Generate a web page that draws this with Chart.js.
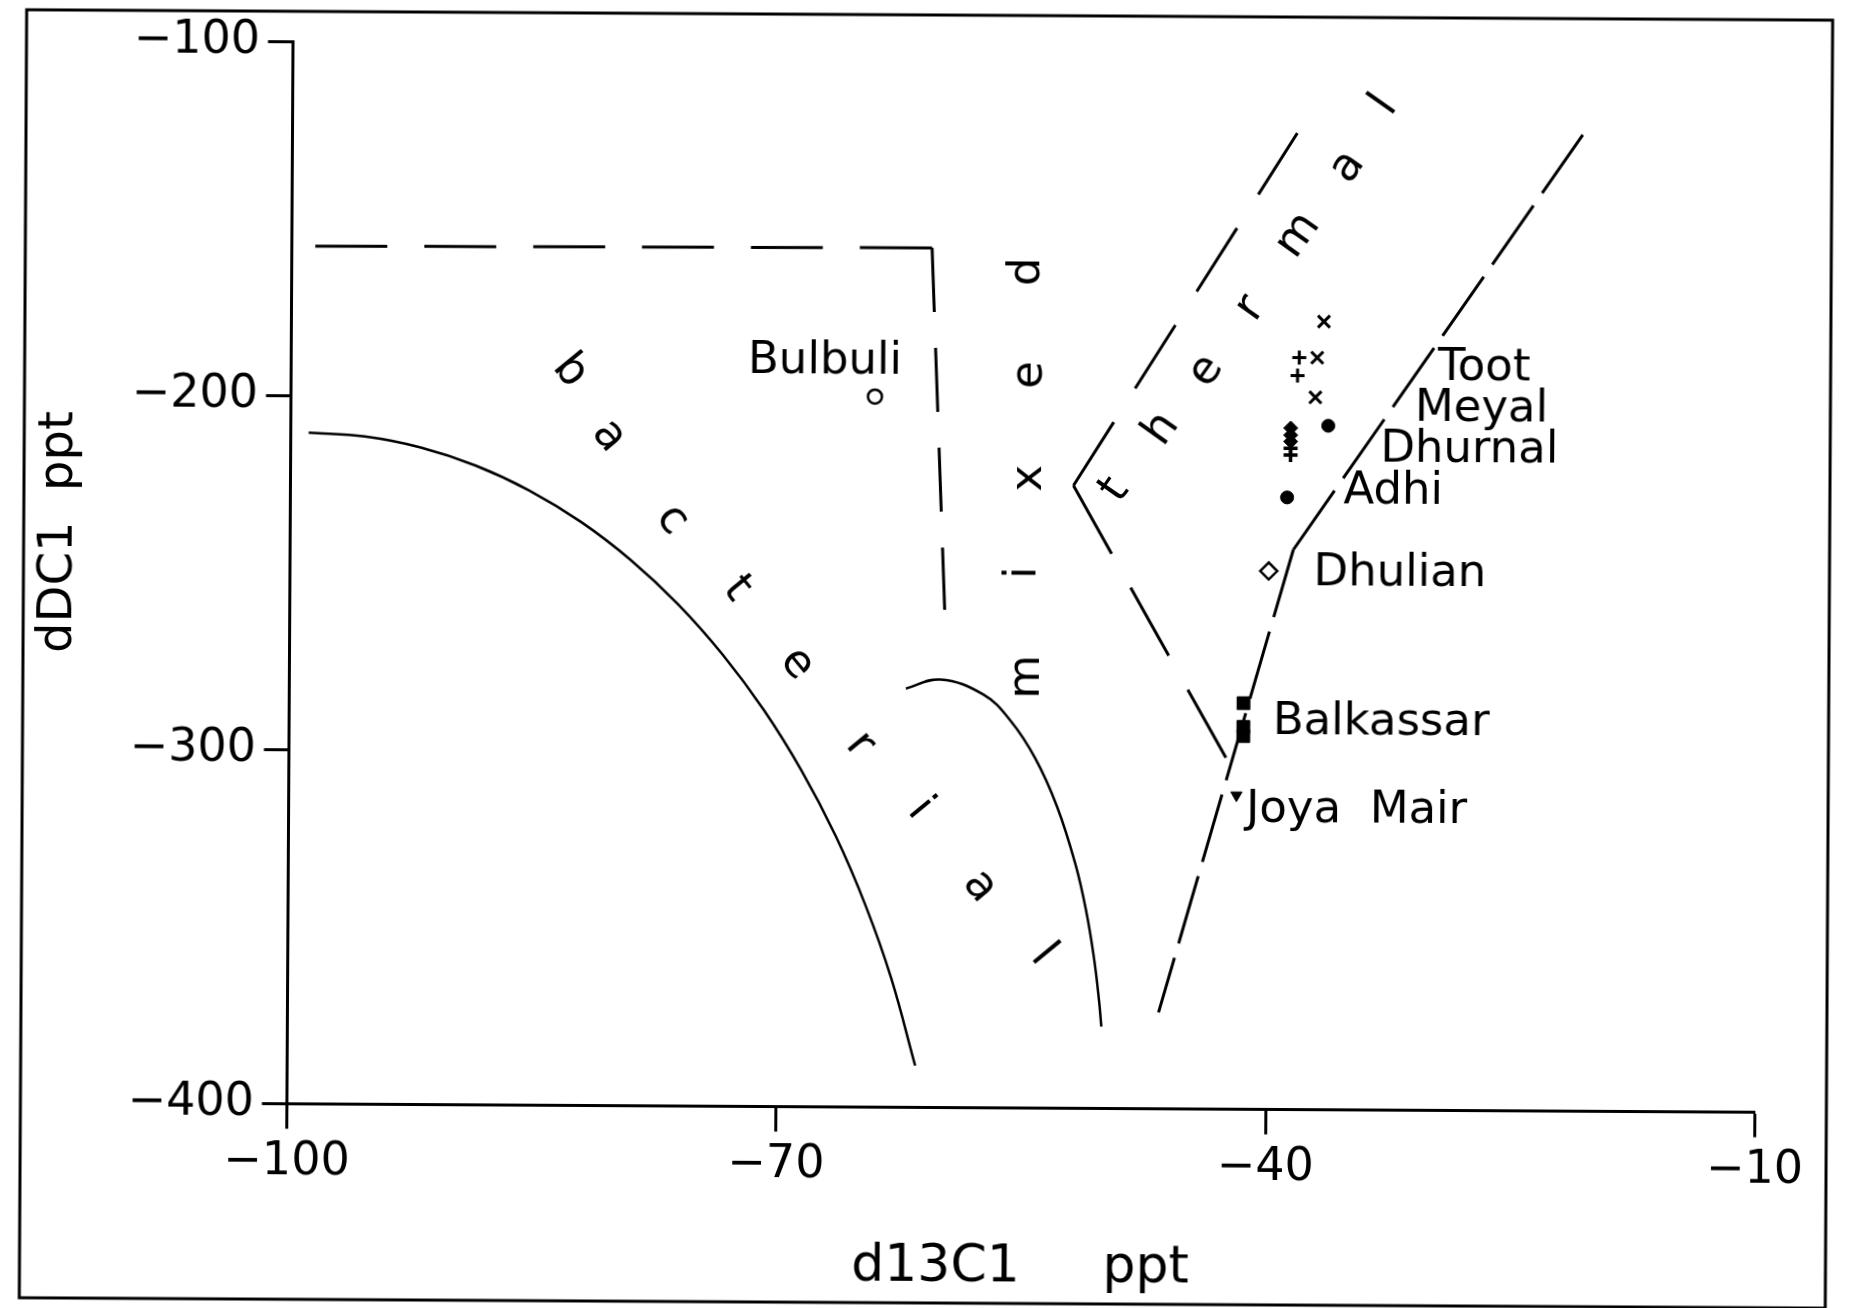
<!DOCTYPE html>
<html>
<head>
<meta charset="utf-8">
<title>dDC1 versus d13C1</title>
<script src="https://cdn.jsdelivr.net/npm/chart.js@4.4.1/dist/chart.umd.min.js"></script>
<style>
  html, body { margin: 0; padding: 0; background: #fff; overflow: hidden; }
  #plot { display: block; transform: rotate(0.33deg); }
</style>
</head>
<body>
<canvas id="plot" width="1868" height="1308"></canvas>
<script>
// Axis ticks
const xTicks = [-100, -70, -40, -10];
const yTicks = [-100, -200, -300, -400];

// Field boundaries (d13C1, dDC1)
const outerCurveX = [-98.9, -95.45, -92.02, -88.65, -85.36, -82.16, -79.10, -76.19, -73.45, -70.9, -68.57, -66.46, -64.61, -63.01, -61.5];
const outerCurveY = [-210.4, -211.41, -214.43, -219.44, -226.38, -235.23, -245.91, -258.31, -272.41, -288.02, -305.06, -323.39, -342.9, -363.4, -388.2];
const innerCurveX = [-62.2, -60.1, -57.46, -55.79, -54.25, -52.89, -51.74, -51.09, -50.58, -50.25, -50.1];
const innerCurveY = [-281.7, -279.1, -283.26, -290.53, -301.16, -314.83, -331.12, -343.82, -357.38, -369.53, -376.9];
const bacterialTopX = [-60.75, -98.95];
const bacterialTopY = [-157.2, -157.7];
const bacterialSideX = [-60.75, -59.85];
const bacterialSideY = [-157.2, -259.4];
const thermalLeftUpX = [-52.0, -38.4];
const thermalLeftUpY = [-224.1, -124.2];
const thermalLeftLowX = [-52.0, -42.5];
const thermalLeftLowY = [-224.1, -301.2];
const thermalRightUpX = [-38.5, -20.9];
const thermalRightUpY = [-241.9, -124.2];
const thermalRightLowX = [-38.5, -46.6];
const thermalRightLowY = [-241.9, -372.8];

// Gas samples
const bulbuliX = [-64.2];
const bulbuliY = [-199.3];
const tootPlusX = [-38.2, -38.3];
const tootPlusY = [-187.6, -192.7];
const tootCrossX = [-36.7, -37.1, -37.2];
const tootCrossY = [-177.4, -187.6, -198.8];
const meyalX = [-36.4];
const meyalY = [-206.8];
const dhurnalX = [-38.7, -38.7, -38.7];
const dhurnalY = [-207.5, -209.5, -211.3];
const dhurnalPlusX = [-38.7, -38.7];
const dhurnalPlusY = [-213.2, -215.1];
const adhiX = [-38.9];
const adhiY = [-227.1];
const dhulianX = [-40.0];
const dhulianY = [-247.9];
const balkassarX = [-41.5, -41.5, -41.5];
const balkassarY = [-285.3, -292.0, -294.6];
const joyaMairX = [-41.9];
const joyaMairY = [-311.3];

// Site names and where their text sits
const siteNames = ['Bulbuli', 'Toot', 'Meyal', 'Dhurnal', 'Adhi', 'Dhulian', 'Balkassar', 'Joya  Mair'];
const siteLabelX = [-72.0, -29.7, -31.1, -33.2, -35.45, -37.25, -39.7, -41.3];
const siteLabelY = [-192.8, -193.7, -205.3, -216.9, -228.7, -251.8, -293.8, -318.8];

// Field names, spelled letter by letter along each field
const bacterialWord = 'bacterial';
const bacterialLetterX = [-82.9, -80.5, -76.6, -72.6, -68.9, -65.0, -61.3, -57.6, -53.7];
const bacterialLetterY = [-192.6, -210.9, -234.5, -253.8, -275.0, -297.8, -315.7, -337.5, -356.7];
const mixedWord = 'mixed';
const mixedLetterX = [-54.8, -55.0, -54.7, -54.7, -54.9];
const mixedLetterY = [-278.2, -248.8, -222.1, -192.9, -163.8];
const thermalWord = 'thermal';
const thermalLetterX = [-49.45, -46.6, -43.9, -41.2, -38.3, -35.3, -33.05];
const thermalLetterY = [-225.3, -208.0, -191.6, -173.8, -153.1, -133.7, -116.2];

const xTitle = 'd13C1     ppt';
const yTitle = 'dDC1  ppt';

const FONT = '"DejaVu Sans", sans-serif';
const INK = '#000';

const pts = (xs, ys) => xs.map((x, i) => ({ x, y: ys[i] }));
const fmt = v => (v < 0 ? '\u2212' : '') + Math.abs(v);

function boundary(xs, ys, dash, width) {
  return {
    data: pts(xs, ys), showLine: true, fill: false,
    borderColor: INK, borderWidth: width, borderDash: dash, borderCapStyle: 'butt',
    tension: 0.4,
    pointRadius: 0, pointHoverRadius: 0
  };
}
function samples(xs, ys, style, radius, filled, lineWidth, rotation) {
  return {
    data: pts(xs, ys), showLine: false,
    pointStyle: style, pointRadius: radius, pointHoverRadius: radius,
    pointBorderColor: INK, pointBackgroundColor: filled ? INK : '#fff',
    pointBorderWidth: lineWidth, pointRotation: rotation || 0
  };
}

// Page frame, axis titles, site names and field names
const textLayer = {
  id: 'textLayer',
  beforeDraw(chart) {
    const ctx = chart.ctx;
    ctx.save();
    ctx.fillStyle = '#fff';
    ctx.fillRect(0, 0, chart.width, chart.height);
    ctx.strokeStyle = INK;
    ctx.lineWidth = 3;
    ctx.strokeRect(23, 15, 1806, 1288);
    ctx.restore();
  },
  afterDraw(chart) {
    const { ctx, chartArea, scales: { x, y } } = chart;
    ctx.save();
    ctx.fillStyle = INK;

    // axis titles
    ctx.textAlign = 'center';
    ctx.textBaseline = 'alphabetic';
    ctx.font = '52px ' + FONT;
    ctx.fillText(xTitle, (chartArea.left + chartArea.right) / 2, 1281);
    ctx.font = '48px ' + FONT;
    ctx.save();
    ctx.translate(71, 537);
    ctx.rotate(-Math.PI / 2);
    ctx.fillText(yTitle, 0, 0);
    ctx.restore();

    // site names
    ctx.font = '45px ' + FONT;
    ctx.textAlign = 'left';
    siteNames.forEach((name, i) => {
      ctx.fillText(name, x.getPixelForValue(siteLabelX[i]), y.getPixelForValue(siteLabelY[i]));
    });

    // field names, one letter at a time
    ctx.textAlign = 'center';
    ctx.textBaseline = 'middle';
    const spell = (word, xs, ys, deg) => {
      word.split('').forEach((ch, i) => {
        ctx.save();
        ctx.translate(x.getPixelForValue(xs[i]), y.getPixelForValue(ys[i]));
        ctx.rotate(deg * Math.PI / 180);
        ctx.fillText(ch, 0, 0);
        ctx.restore();
      });
    };
    spell(bacterialWord, bacterialLetterX, bacterialLetterY, 50);
    spell(mixedWord, mixedLetterX, mixedLetterY, -90);
    spell(thermalWord, thermalLetterX, thermalLetterY, -55);
    ctx.restore();
  }
};

const axisGrid = { display: true, drawOnChartArea: false, drawTicks: true, tickLength: 25, tickWidth: 3, tickColor: INK };
const axisBorder = { display: true, color: INK, width: 3 };
const tickFont = { family: FONT, size: 46 };

new Chart(document.getElementById('plot'), {
  type: 'scatter',
  data: {
    datasets: [
      boundary(outerCurveX, outerCurveY, [], 2.5),
      boundary(innerCurveX, innerCurveY, [], 2.5),
      boundary(bacterialTopX, bacterialTopY, [72, 37], 3),
      boundary(bacterialSideX, bacterialSideY, [64, 36], 3),
      boundary(thermalLeftUpX, thermalLeftUpY, [75, 40], 3),
      boundary(thermalLeftLowX, thermalLeftLowY, [78, 39], 3),
      boundary(thermalRightUpX, thermalRightUpY, [72, 15], 3),
      boundary(thermalRightLowX, thermalRightLowY, [70, 15], 3),
      samples(bulbuliX, bulbuliY, 'circle', 7, false, 2.5),
      samples(tootPlusX, tootPlusY, 'cross', 7, false, 3),
      samples(tootCrossX, tootCrossY, 'crossRot', 8.5, false, 3),
      samples(meyalX, meyalY, 'circle', 6.5, true, 1),
      samples(dhurnalX, dhurnalY, 'rectRot', 7, true, 1),
      samples(dhurnalPlusX, dhurnalPlusY, 'cross', 7, true, 3.5),
      samples(adhiX, adhiY, 'circle', 6.5, true, 1),
      samples(dhulianX, dhulianY, 'rectRot', 8.5, false, 2.5),
      samples(balkassarX, balkassarY, 'rect', 9, true, 1),
      samples(joyaMairX, joyaMairY, 'triangle', 6.5, true, 1, 180)
    ]
  },
  options: {
    responsive: false,
    animation: false,
    events: [],
    layout: { padding: { left: 0, top: 45.4, right: 110.4, bottom: 80.5 } },
    plugins: { legend: { display: false }, tooltip: { enabled: false } },
    scales: {
      x: {
        type: 'linear', position: 'bottom', min: -100, max: -10,
        afterBuildTicks: s => { s.ticks = xTicks.map(v => ({ value: v })); },
        afterFit: s => { s.height = 120; },
        grid: axisGrid, border: axisBorder,
        ticks: { color: INK, font: tickFont, padding: 6, maxRotation: 0, autoSkip: false, callback: fmt }
      },
      y: {
        type: 'linear', position: 'left', min: -400, max: -100,
        afterBuildTicks: s => { s.ticks = yTicks.map(v => ({ value: v })); },
        afterFit: s => { s.width = 289.5; },
        grid: axisGrid, border: axisBorder,
        ticks: { color: INK, font: tickFont, padding: 8, autoSkip: false, callback: fmt }
      }
    }
  },
  plugins: [textLayer]
});
</script>
</body>
</html>
